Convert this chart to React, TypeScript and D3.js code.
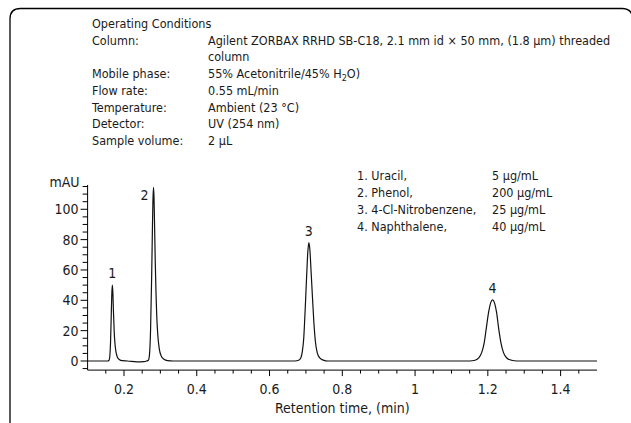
import React from "react";
import * as d3 from "d3";

// ---- Data ----
const conditionLabels = [
  "Column:",
  "",
  "Mobile phase:",
  "Flow rate:",
  "Temperature:",
  "Detector:",
  "Sample volume:",
];
const conditionValues = [
  "Agilent ZORBAX RRHD SB-C18, 2.1 mm id  \u00d7 50 mm, (1.8 \u00b5m) threaded",
  "column",
  "MOBILE",
  "0.55 mL/min",
  "Ambient (23 \u00b0C)",
  "UV (254 nm)",
  "2 \u00b5L",
];
const compounds = ["1. Uracil,", "2. Phenol,", "3. 4-Cl-Nitrobenzene,", "4. Naphthalene,"];
const concentrations = ["5 \u00b5g/mL", "200 \u00b5g/mL", "25 \u00b5g/mL", "40 \u00b5g/mL"];

const peakNames = ["1", "2", "3", "4"];
const peakTimes = [0.168, 0.281, 0.708, 1.213];
const peakHeights = [50, 114.5, 78, 40.3];

// trace points (time min, mAU)
const traceTime = [
  0.1, 0.155, 0.159, 0.161, 0.163, 0.165, 0.1665, 0.168, 0.1695, 0.171, 0.173, 0.175, 0.178, 0.182, 0.187, 0.195,
  0.21, 0.235, 0.255, 0.262, 0.267, 0.27, 0.273, 0.276, 0.278, 0.2795, 0.281, 0.2825, 0.284, 0.286, 0.288, 0.29,
  0.293, 0.297, 0.302, 0.31, 0.32, 0.335, 0.5, 0.67, 0.68, 0.686, 0.69, 0.694, 0.698, 0.702, 0.705, 0.708, 0.711,
  0.714, 0.718, 0.722, 0.726, 0.731, 0.738, 0.748, 0.76, 1.0, 1.15, 1.165, 1.175, 1.183, 1.19, 1.196, 1.202, 1.208,
  1.213, 1.218, 1.224, 1.23, 1.236, 1.243, 1.252, 1.265, 1.28, 1.5,
];
const traceMAU = [
  0, 0, 0.5, 3, 12, 30, 44, 50, 45, 33, 20, 12, 6, 2.5, 1, 0.2,
  0, -0.6, -0.4, 0, 0.5, 4, 20, 55, 85, 105, 114.5, 108, 90, 65, 45, 30,
  17, 8, 3.5, 1.2, 0.3, 0, 0, 0, 0.5, 2, 6, 15, 34, 56, 71, 78, 73,
  60, 42, 25, 13, 5.5, 2, 0.6, 0, 0, 0, 0.5, 2, 5.5, 12, 22, 32, 38.5,
  40.3, 38.5, 32, 21, 12, 5.5, 2, 0.5, 0, 0,
];

const yMajorTicks = [0, 20, 40, 60, 80, 100];
const xMajorTicks = [0.2, 0.4, 0.6, 0.8, 1, 1.2, 1.4];

const FONT = "'Liberation Sans Narrow', 'DejaVu Sans Condensed', 'Arial Narrow', sans-serif";

export default function App() {
  const W = 631;
  const H = 423;
  const x = d3.scaleLinear().domain([0.1, 1.5]).range([87.6, 597]);
  const y = d3.scaleLinear().domain([-6, 116]).range([370.1, 185]);

  const pts: [number, number][] = traceTime.map((t, i) => [t, traceMAU[i]]);
  const line = d3
    .line<[number, number]>()
    .x((d) => x(d[0]))
    .y((d) => y(d[1]))
    .curve(d3.curveMonotoneX);

  const yMinor = d3.range(-5, 116, 5);
  const xMinor = d3.range(0.15, 1.46, 0.05);
  const x0 = x(0.1);
  const yAxisY = y(-6);

  const condX0 = 92;
  const condX1 = 208;
  const condY0 = 28;
  const condDY = 16.7;

  const legX0 = 357;
  const legX1 = 492;
  const legY0 = 180;
  const legDY = 17;

  return (
    <svg
      width={W}
      height={H}
      style={{ position: "absolute", left: 0, top: 0, background: "#fff" }}
      fontFamily={FONT}
    >
      <rect width={W} height={H} fill="#fff" />
      {/* frame */}
      <path
        d={`M10,${H + 2} L10,19 Q10,8.5 20.5,8.5 L622,8.5 Q632.5,8.5 632.5,19 L632.5,${H + 2}`}
        fill="none"
        stroke="#000"
        strokeWidth={1.3}
      />

      {/* operating conditions */}
      <g fontSize={12.5} fill="#1a1a1a">
        <text x={condX0} y={condY0}>Operating Conditions</text>
        {conditionLabels.map((l, i) => (
          <text key={"l" + i} x={condX0} y={condY0 + condDY * (i + 1)}>
            {l}
          </text>
        ))}
        {conditionValues.map((v, i) => (
          <text key={"v" + i} x={condX1} y={condY0 + condDY * (i + 1)}>
            {v === "MOBILE" ? (
              <>
                55% Acetonitrile/45% H
                <tspan fontSize={9} dy={3}>2</tspan>
                <tspan dy={-3}>O)</tspan>
              </>
            ) : (
              v
            )}
          </text>
        ))}
      </g>

      {/* legend */}
      <g fontSize={12.5} fill="#1a1a1a">
        {compounds.map((c, i) => (
          <text key={"c" + i} x={legX0} y={legY0 + legDY * i}>
            {c}
          </text>
        ))}
        {concentrations.map((c, i) => (
          <text key={"k" + i} x={legX1} y={legY0 + legDY * i}>
            {c}
          </text>
        ))}
      </g>

      {/* y axis */}
      <g stroke="#000" strokeWidth={1}>
        <line x1={x0} x2={x0} y1={yAxisY} y2={y(116)} />
        {yMinor.map((v) => (
          <line
            key={"ym" + v}
            x1={x0}
            x2={x0 - (yMajorTicks.includes(v) ? 7 : 5)}
            y1={y(v)}
            y2={y(v)}
          />
        ))}
      </g>
      <g fontSize={14} fill="#1a1a1a" textAnchor="end">
        {yMajorTicks.map((v) => (
          <text key={"yl" + v} x={x0 - 9} y={y(v) + 5}>
            {v}
          </text>
        ))}
        <text x={x0 - 8} y={y(115) + 0.5}>mAU</text>
      </g>

      {/* x axis */}
      <g stroke="#000" strokeWidth={1}>
        <line x1={x0} x2={x(1.5)} y1={yAxisY} y2={yAxisY} />
        {xMinor.map((v, i) => {
          const major = xMajorTicks.some((m) => Math.abs(m - v) < 1e-6);
          return (
            <line key={"xm" + i} x1={x(v)} x2={x(v)} y1={yAxisY} y2={yAxisY + (major ? 6 : 3.5)} />
          );
        })}
      </g>
      <g fontSize={14} fill="#1a1a1a" textAnchor="middle">
        {xMajorTicks.map((v) => (
          <text key={"xl" + v} x={x(v)} y={394}>
            {v}
          </text>
        ))}
        <text x={(x(0.1) + x(1.5)) / 2} y={413}>Retention time, (min)</text>
      </g>

      {/* trace */}
      <path d={line(pts) || ""} fill="none" stroke="#111" strokeWidth={1.2} />

      {/* peak labels */}
      <g fontSize={14} fill="#1a1a1a" textAnchor="middle">
        {peakNames.map((n, i) =>
          i === 1 ? (
            <text key={"p" + i} x={x(peakTimes[i]) - 9} y={y(peakHeights[i]) + 13}>
              {n}
            </text>
          ) : (
            <text key={"p" + i} x={x(peakTimes[i])} y={y(peakHeights[i]) - 7}>
              {n}
            </text>
          )
        )}
      </g>
    </svg>
  );
}
